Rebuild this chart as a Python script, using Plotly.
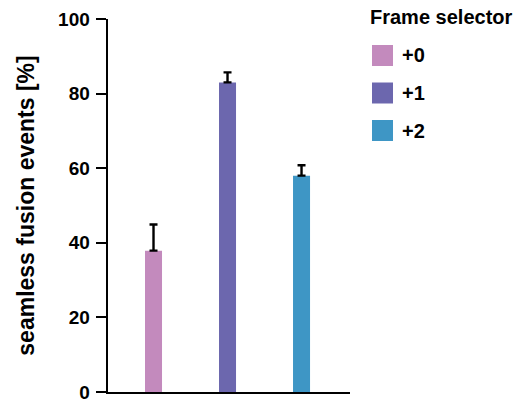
import plotly.graph_objects as go

categories = ["+0", "+1", "+2"]
values = [37.9, 83.0, 58.0]
errors_up = [7.0, 2.7, 2.8]
colors = ["#C38ABD", "#6C67AE", "#3E96C5"]
y_ticks = [0, 20, 40, 60, 80, 100]
legend_title = "Frame selector"
y_title = "seamless fusion events [%]"

FONT = "Liberation Sans, Arial, Helvetica, sans-serif"

fig = go.Figure()
for i, (cat, val, err, col) in enumerate(zip(categories, values, errors_up, colors)):
    fig.add_trace(go.Bar(
        x=[i], y=[val], name=cat, width=0.23,
        marker=dict(color=col, line=dict(width=0)),
        error_y=dict(type="data", symmetric=False, array=[err], arrayminus=[0],
                     color="black", thickness=2.4, width=4),
        showlegend=False,
    ))

# manual legend (swatches + labels) in paper coordinates
W, H = 531, 403
ml, mr, mt, mb = 108, 181, 19, 11
pw, ph = W - ml - mr, H - mt - mb

def px_x(x):
    return (x - ml) / pw

def px_y(y):
    return 1 - (y - mt) / ph

fig.add_annotation(x=px_x(368), y=px_y(17), xref="paper", yref="paper",
                   text=legend_title, showarrow=False, xanchor="left", yanchor="middle",
                   font=dict(family=FONT, size=20, color="black", weight="bold"))
for k, (cat, col) in enumerate(zip(categories, colors)):
    top = 45 + k * 37.5
    fig.add_shape(type="rect", xref="paper", yref="paper",
                  x0=px_x(372), x1=px_x(393), y0=px_y(top + 21), y1=px_y(top),
                  fillcolor=col, line=dict(width=0))
    fig.add_annotation(x=px_x(400), y=px_y(top + 10.5), xref="paper", yref="paper",
                       text=cat, showarrow=False, xanchor="left", yanchor="middle",
                       font=dict(family=FONT, size=20, color="black", weight="bold"))

fig.update_layout(
    width=W, height=H,
    margin=dict(l=ml, r=mr, t=mt, b=mb, pad=0, autoexpand=False),
    paper_bgcolor="white", plot_bgcolor="white",
    barmode="overlay",
    font=dict(family=FONT, size=19, color="black", weight="bold"),
    showlegend=False,
)
fig.update_xaxes(
    range=[-0.615, 2.655], showticklabels=False, ticks="", showgrid=False,
    zeroline=False, showline=True, linecolor="black", linewidth=2.4,
    automargin=False,
)
fig.update_yaxes(
    range=[0, 100], tickvals=y_ticks, ticks="outside", ticklen=10, tickwidth=2.2,
    tickcolor="black", showgrid=False, zeroline=False, showline=True,
    linecolor="black", linewidth=2.4, ticklabelstandoff=2, automargin=False,
    tickfont=dict(family=FONT, size=19, color="black", weight="bold"),
    title=dict(text=y_title, standoff=17,
               font=dict(family=FONT, size=23, color="black", weight="bold")),
)

fig.write_html("out.html", config={"displayModeBar": False, "staticPlot": True},
               post_script="document.body.style.margin='0';")
